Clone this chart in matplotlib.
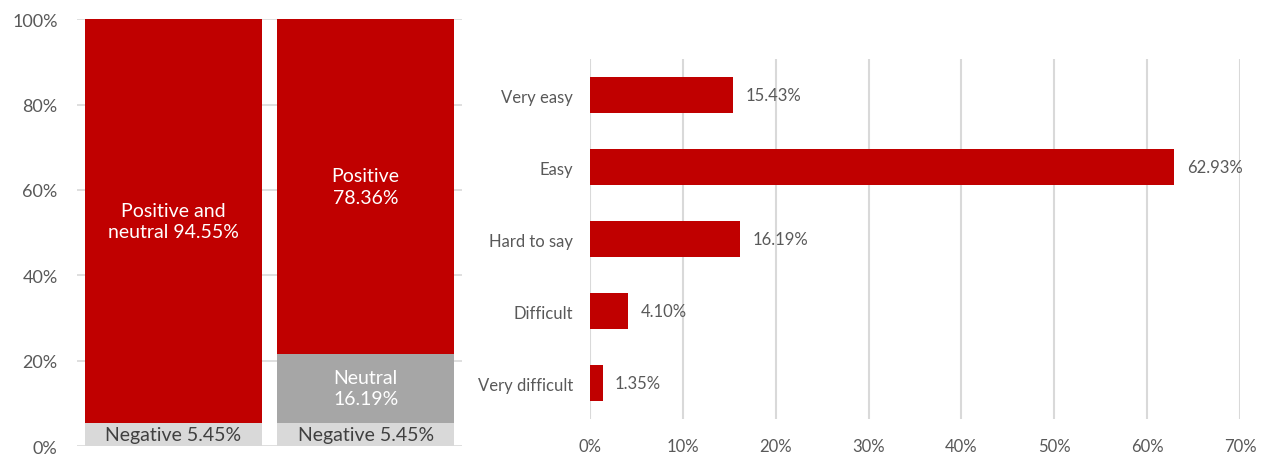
import matplotlib.pyplot as plt

# Left: stacked sentiment bars
bar_names = ["All", "Split"]
negative = [5.45, 5.45]
neutral = [0.0, 16.19]
positive = [94.55, 78.36]
bar_labels_top = ["Positive and\nneutral 94.55%", "Positive\n78.36%"]

# Right: ease of use
ease_cats = ["Very easy", "Easy", "Hard to say", "Difficult", "Very difficult"]
ease_vals = [15.43, 62.93, 16.19, 4.10, 1.35]

RED = "#C00000"
NEUTRAL = "#A6A6A6"
NEG = "#D9D9D9"
GRID = "#D9D9D9"
TXT = "#595959"

plt.rcParams['font.family'] = ['Lato', 'DejaVu Sans']

fig = plt.figure(figsize=(12.64, 4.56), dpi=100)

# ---- left chart ----
ax1 = fig.add_axes([0.0609, 0.0197, 0.3046, 0.936])
x = list(range(len(bar_names)))
w = 0.92
ax1.bar(x, negative, width=w, color=NEG, zorder=2)
ax1.bar(x, neutral, width=w, bottom=negative, color=NEUTRAL, zorder=2)
bottoms = [n + m for n, m in zip(negative, neutral)]
ax1.bar(x, positive, width=w, bottom=bottoms, color=RED, zorder=2)

ax1.set_xlim(-0.5, 1.5)
ax1.set_ylim(0, 100)
ax1.set_yticks(range(0, 101, 20))
ax1.set_yticklabels([f"{v}%" for v in range(0, 101, 20)])
ax1.set_xticks([])
ax1.yaxis.grid(True, color=GRID, linewidth=1.2, zorder=0)
ax1.tick_params(axis='y', length=0, pad=14, labelsize=13, labelcolor=TXT)
for s in ax1.spines.values():
    s.set_visible(False)

for i in x:
    ax1.text(i, negative[i] / 2, f"Negative {negative[i]:.2f}%", ha='center', va='center',
             fontsize=14, color="#404040", zorder=3)
    ax1.text(i, bottoms[i] + positive[i] / 2, bar_labels_top[i], ha='center', va='center',
             fontsize=14, color="white", linespacing=1.3, zorder=3)
    if neutral[i] > 0:
        ax1.text(i, negative[i] + neutral[i] / 2, f"Neutral\n{neutral[i]:.2f}%", ha='center',
                 va='center', fontsize=14, color="white", linespacing=1.3, zorder=3)

# ---- right chart ----
ax2 = fig.add_axes([0.4668, 0.0789, 0.5142, 0.789])
y = list(range(len(ease_cats)))
ax2.barh(y, ease_vals, height=0.5, color=RED, zorder=2)
ax2.set_ylim(len(ease_cats) - 0.5, -0.5)
ax2.set_xlim(0, 70)
ax2.set_xticks(range(0, 71, 10))
ax2.set_xticklabels([f"{v}%" for v in range(0, 71, 10)])
ax2.set_yticks(y)
ax2.set_yticklabels(ease_cats)
ax2.xaxis.grid(True, color=GRID, linewidth=1.5, zorder=0)
ax2.tick_params(axis='x', length=0, pad=14, labelsize=12, labelcolor=TXT)
ax2.tick_params(axis='y', length=0, pad=12, labelsize=12, labelcolor=TXT)
for s in ax2.spines.values():
    s.set_visible(False)

for yi, v in zip(y, ease_vals):
    ax2.annotate(f"{v:.2f}%", (v, yi), xytext=(9, 0), textcoords='offset points',
                 ha='left', va='center', fontsize=12, color=TXT)

fig.savefig("out.png", dpi=100)
